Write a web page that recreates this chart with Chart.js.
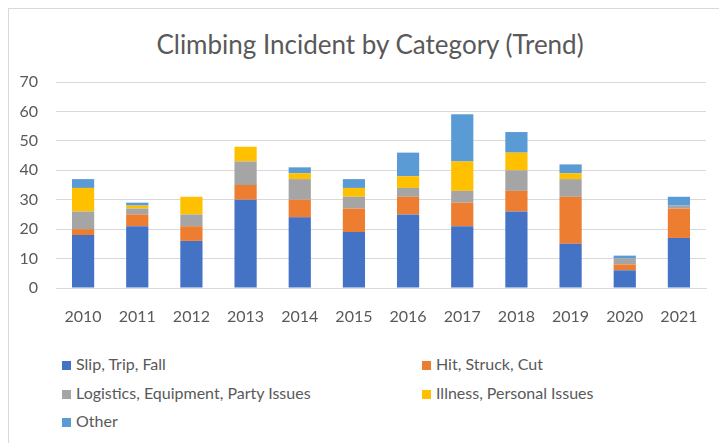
<!DOCTYPE html>
<html>
<head>
<meta charset="utf-8">
<script src="https://cdn.jsdelivr.net/npm/chart.js@4"></script>
<style>
	body { margin: 0; background: #fff; font-family: Lato, sans-serif; }
	#frame { position: absolute; left: 8px; top: 8px; width: 730px; height: 460px; border: 1px solid #d9d9d9; }
	#title { position: absolute; left: 0; top: 29px; width: 740px; height: 30px; line-height: 30px; text-align: center; color: #595959; font-size: 26px; white-space: nowrap; }
	#wrap { position: absolute; left: 0; top: 0; width: 719px; height: 328px; }
	#legend { position: absolute; left: 0; top: 354px; width: 719px; color: #595959; font-size: 16px; }
	.item { position: absolute; height: 20px; line-height: 20px; white-space: nowrap; }
	.sw { display: inline-block; width: 9px; height: 9px; margin-right: 5px; vertical-align: 0px; }
</style>
</head>
<body>
<div id="frame"></div>
<div id="title">Climbing Incident by Category (Trend)</div>
<div id="wrap"><canvas id="chart"></canvas></div>
<div id="legend"></div>
<script>
var years = ["2010","2011","2012","2013","2014","2015","2016","2017","2018","2019","2020","2021"];
var slipTripFall = [18, 21, 16, 30, 24, 19, 25, 21, 26, 15, 6, 17];
var hitStruckCut = [2, 4, 5, 5, 6, 8, 6, 8, 7, 16, 2, 10];
var logistics    = [6, 2, 4, 8, 7, 4, 3, 4, 7, 6, 2, 1];
var illness      = [8, 1, 6, 5, 2, 3, 4, 10, 6, 2, 0, 0];
var other        = [3, 1, 0, 0, 2, 3, 8, 16, 7, 3, 1, 3];
var yTicks = [0, 10, 20, 30, 40, 50, 60, 70];

var series = [
	["Slip, Trip, Fall", slipTripFall, "#4472C4"],
	["Hit, Struck, Cut", hitStruckCut, "#ED7D31"],
	["Logistics, Equipment, Party Issues", logistics, "#A5A5A5"],
	["Illness, Personal Issues", illness, "#FFC000"],
	["Other", other, "#5B9BD5"]
];

var txt = "#595959";

var ctx = document.getElementById("chart").getContext("2d");
var chart = new Chart(ctx, {
	type: "bar",
	data: {
		labels: years,
		datasets: series.map(s => ({
			label: s[0],
			data: s[1],
			backgroundColor: s[2],
			borderWidth: 0,
			categoryPercentage: 1,
			barPercentage: 0.41
		}))
	},
	options: {
		responsive: true,
		maintainAspectRatio: false,
		animation: false,
		layout: { padding: { left: 8, right: 13, top: 82, bottom: 0 } },
		plugins: {
			legend: { display: false },
			tooltip: { enabled: false },
			title: { display: false }
		},
		scales: {
			x: {
				stacked: true,
				grid: { display: false },
				border: { color: "#d9d9d9", width: 1 },
				ticks: { color: txt, font: { family: "Lato", size: 16 }, padding: 11 },
				afterFit: s => { s.height = 40; }
			},
			y: {
				stacked: true,
				min: 0,
				max: 70,
				afterBuildTicks: s => { s.ticks = yTicks.map(v => ({ value: v })); },
				grid: { color: "#d9d9d9", drawTicks: false },
				border: { display: false },
				ticks: { color: txt, font: { family: "Lato", size: 16 }, padding: 18 },
				afterFit: s => { s.width = 48; }
			}
		}
	}
});

// legend in two columns like the original
var leg = document.getElementById("legend");
var pos = [[62, 0], [422, 0], [62, 29], [422, 29], [62, 57]];
series.forEach((s, i) => {
	var d = document.createElement("div");
	d.className = "item";
	d.style.left = pos[i][0] + "px";
	d.style.top = pos[i][1] + "px";
	d.innerHTML = '<span class="sw" style="background:' + s[2] + '"></span>' + s[0];
	leg.appendChild(d);
});
</script>
</body>
</html>
